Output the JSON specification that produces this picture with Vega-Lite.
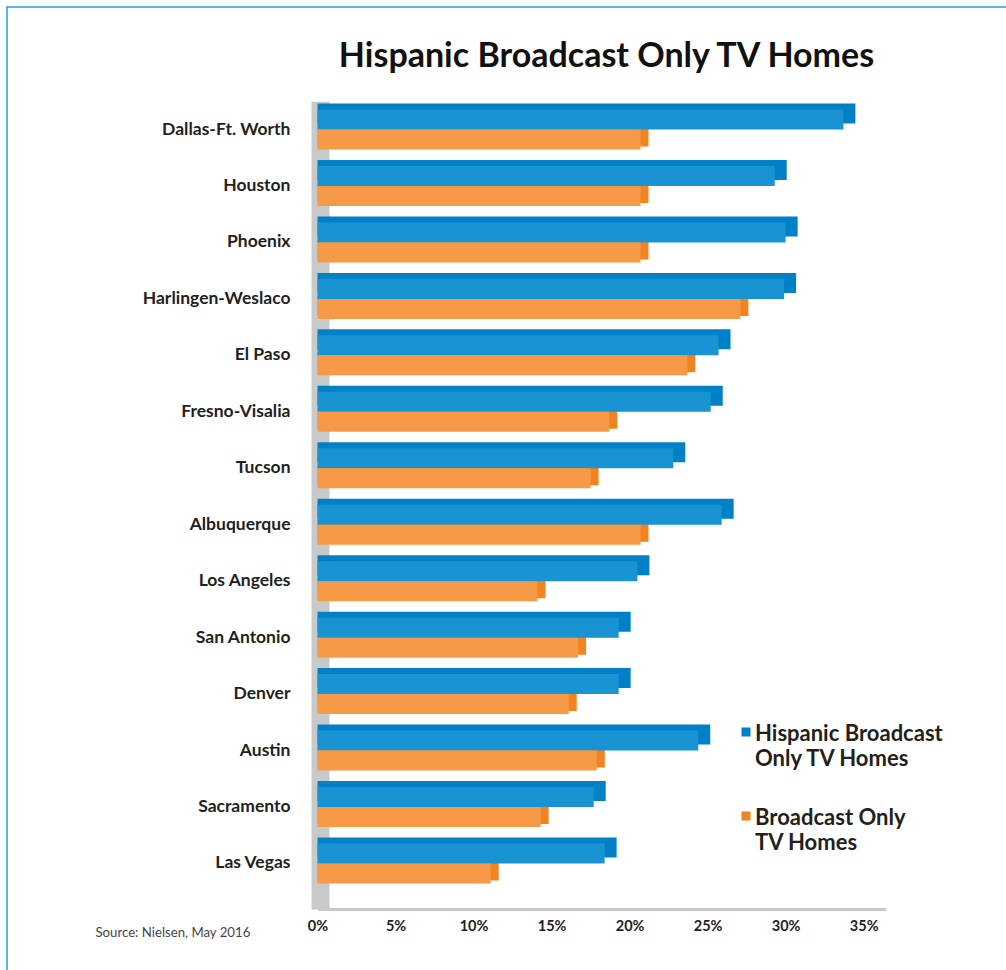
{
  "$schema": "https://vega.github.io/schema/vega-lite/v6.json",
  "autosize": {"type": "none"},
  "padding": {"left": 7, "top": 7, "right": 0, "bottom": 0},
  "width": 1010,
  "height": 975,
  "background": "#ffffff",
  "config": {
    "view": {"stroke": "#2d9bd9", "strokeWidth": 1.5},
    "font": "Lato",
    "style": {"guide-label": {"lineHeight": 25, "dy": -8}}
  },
  "title": {
    "text": "Hispanic Broadcast Only TV Homes",
    "font": "Lato",
    "fontSize": 34,
    "fontWeight": "bold",
    "color": "#111111",
    "anchor": "middle",
    "frame": "group",
    "baseline": "alphabetic",
    "offset": -94,
    "dx": 94.5
  },
  "data": {
    "values": [
      {"city": "Dallas-Ft. Worth", "series": "Hispanic Broadcast Only TV Homes", "value": 33.7},
      {"city": "Dallas-Ft. Worth", "series": "Broadcast Only TV Homes", "value": 20.7},
      {"city": "Houston", "series": "Hispanic Broadcast Only TV Homes", "value": 29.3},
      {"city": "Houston", "series": "Broadcast Only TV Homes", "value": 20.7},
      {"city": "Phoenix", "series": "Hispanic Broadcast Only TV Homes", "value": 30.0},
      {"city": "Phoenix", "series": "Broadcast Only TV Homes", "value": 20.7},
      {"city": "Harlingen-Weslaco", "series": "Hispanic Broadcast Only TV Homes", "value": 29.9},
      {"city": "Harlingen-Weslaco", "series": "Broadcast Only TV Homes", "value": 27.1},
      {"city": "El Paso", "series": "Hispanic Broadcast Only TV Homes", "value": 25.7},
      {"city": "El Paso", "series": "Broadcast Only TV Homes", "value": 23.7},
      {"city": "Fresno-Visalia", "series": "Hispanic Broadcast Only TV Homes", "value": 25.2},
      {"city": "Fresno-Visalia", "series": "Broadcast Only TV Homes", "value": 18.7},
      {"city": "Tucson", "series": "Hispanic Broadcast Only TV Homes", "value": 22.8},
      {"city": "Tucson", "series": "Broadcast Only TV Homes", "value": 17.5},
      {"city": "Albuquerque", "series": "Hispanic Broadcast Only TV Homes", "value": 25.9},
      {"city": "Albuquerque", "series": "Broadcast Only TV Homes", "value": 20.7},
      {"city": "Los Angeles", "series": "Hispanic Broadcast Only TV Homes", "value": 20.5},
      {"city": "Los Angeles", "series": "Broadcast Only TV Homes", "value": 14.1},
      {"city": "San Antonio", "series": "Hispanic Broadcast Only TV Homes", "value": 19.3},
      {"city": "San Antonio", "series": "Broadcast Only TV Homes", "value": 16.7},
      {"city": "Denver", "series": "Hispanic Broadcast Only TV Homes", "value": 19.3},
      {"city": "Denver", "series": "Broadcast Only TV Homes", "value": 16.1},
      {"city": "Austin", "series": "Hispanic Broadcast Only TV Homes", "value": 24.4},
      {"city": "Austin", "series": "Broadcast Only TV Homes", "value": 17.9},
      {"city": "Sacramento", "series": "Hispanic Broadcast Only TV Homes", "value": 17.7},
      {"city": "Sacramento", "series": "Broadcast Only TV Homes", "value": 14.3},
      {"city": "Las Vegas", "series": "Hispanic Broadcast Only TV Homes", "value": 18.4},
      {"city": "Las Vegas", "series": "Broadcast Only TV Homes", "value": 11.1}
    ]
  },
  "encoding": {
    "x": {
      "field": "value",
      "type": "quantitative",
      "stack": null,
      "scale": {"domain": [0, 36.4], "range": [310.5, 878.5], "nice": false, "zero": false},
      "axis": {
        "values": [0, 5, 10, 15, 20, 25, 30, 35],
        "labelExpr": "datum.value + '%'",
        "title": "Source: Nielsen, May 2016",
        "titleX": 88,
        "titleY": 23,
        "titleAlign": "left",
        "titleAnchor": "start",
        "titleBaseline": "middle",
        "titleFont": "Lato",
        "titleFontSize": 13.2,
        "titleFontWeight": "normal",
        "titleColor": "#444444",
        "ticks": false,
        "tickSize": 0,
        "grid": false,
        "domainColor": "#c8c9cb",
        "domainWidth": 3,
        "offset": -73,
        "labelFont": "Lato",
        "labelFontWeight": "bold",
        "labelFontSize": 14.5,
        "labelColor": "#222222",
        "labelPadding": 18,
        "labelFlush": false
      }
    },
    "y": {
      "field": "city",
      "type": "nominal",
      "sort": ["Dallas-Ft. Worth", "Houston", "Phoenix", "Harlingen-Weslaco", "El Paso", "Fresno-Visalia", "Tucson", "Albuquerque", "Los Angeles", "San Antonio", "Denver", "Austin", "Sacramento", "Las Vegas"],
      "scale": {"range": [94.27, 902], "paddingInner": 0, "paddingOuter": 0.153, "align": 0},
      "axis": {
        "title": null,
        "ticks": false,
        "tickSize": 0,
        "domainColor": "#c8c9cb",
        "domainWidth": 18,
        "offset": -313,
        "labelPadding": 30,
        "labelOffset": 8,
        "labelFont": "Lato",
        "labelFontWeight": "bold",
        "labelFontSize": 17.5,
        "labelColor": "#231f20",
        "labelLimit": 300
      }
    }
  },
  "layer": [
    {
      "transform": [{"filter": "datum.series == 'Hispanic Broadcast Only TV Homes'"}],
      "mark": {"type": "bar", "height": 20, "yOffset": -16, "xOffset": 12, "x2Offset": 6},
      "encoding": {
        "color": {
          "field": "series",
          "type": "nominal",
          "scale": {"domain": ["Hispanic Broadcast Only TV Homes", "Broadcast Only TV Homes"], "range": ["#0080c6", "#f28321"]},
          "legend": {
            "orient": "none",
            "legendX": 728,
            "legendY": 714,
            "title": null,
            "symbolType": "square",
            "symbolSize": 81,
            "symbolStrokeWidth": 0,
            "labelFont": "Lato",
            "labelFontSize": 22,
            "labelFontWeight": "bold",
            "labelColor": "#231f20",
            "labelOffset": -2,
            "labelBaseline": "top",
            "labelLimit": 300,
            "rowPadding": 35,
            "labelExpr": "datum.label == 'Broadcast Only TV Homes' ? ['Broadcast Only', 'TV Homes'] : ['Hispanic Broadcast', 'Only TV Homes']"
          }
        }
      }
    },
    {
      "transform": [{"filter": "datum.series == 'Broadcast Only TV Homes'"}],
      "mark": {"type": "bar", "height": 20, "yOffset": 7, "xOffset": 8, "x2Offset": 4},
      "encoding": {
        "color": {"field": "series", "type": "nominal"}
      }
    },
    {
      "transform": [{"filter": "datum.series == 'Hispanic Broadcast Only TV Homes'"}],
      "mark": {"type": "bar", "height": 20, "yOffset": -10, "color": "#1a93d3"},
      "encoding": {}
    },
    {
      "transform": [{"filter": "datum.series == 'Broadcast Only TV Homes'"}],
      "mark": {"type": "bar", "height": 20, "yOffset": 10, "color": "#f79a48"},
      "encoding": {}
    }
  ]
}
